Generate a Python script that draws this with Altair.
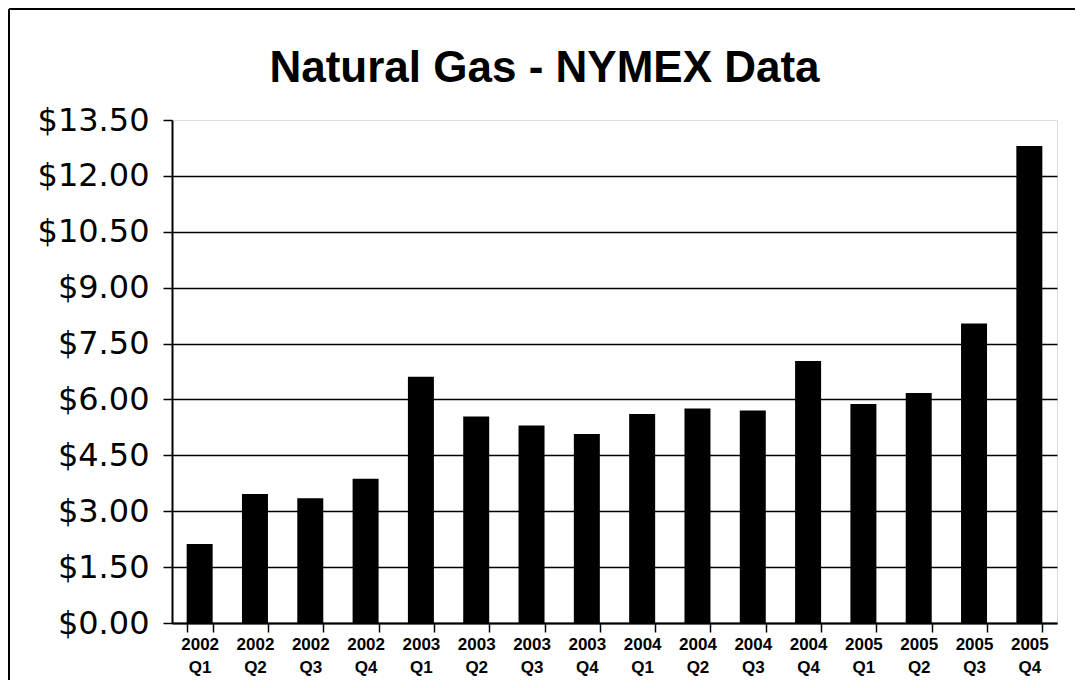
import altair as alt
import pandas as pd

quarters = ["2002 Q1", "2002 Q2", "2002 Q3", "2002 Q4",
            "2003 Q1", "2003 Q2", "2003 Q3", "2003 Q4",
            "2004 Q1", "2004 Q2", "2004 Q3", "2004 Q4",
            "2005 Q1", "2005 Q2", "2005 Q3", "2005 Q4"]
prices = [2.12, 3.46, 3.35, 3.87,
          6.61, 5.54, 5.30, 5.07,
          5.61, 5.76, 5.70, 7.03,
          5.88, 6.17, 8.04, 12.80]
y_ticks = [0, 1.5, 3.0, 4.5, 6.0, 7.5, 9.0, 10.5, 12.0, 13.5]

FONT = "Liberation Sans"

df = pd.DataFrame({"quarter": quarters, "price": prices})

bars = alt.Chart(df).mark_bar(color="black").encode(
    x=alt.X(
        "quarter:N", sort=quarters,
        scale=alt.Scale(paddingInner=0.53, paddingOuter=0.265),
        axis=alt.Axis(
            title=None, labelAngle=0, labelExpr="split(datum.label, ' ')",
            labelFont=FONT, labelFontSize=17, labelFontWeight="bold",
            labelColor="black", labelLineHeight=23, labelPadding=4,
            tickBand="extent", tickSize=9, tickColor="black", tickWidth=1.5,
            domainColor="black", domainWidth=2, grid=False,
        ),
    ),
    y=alt.Y(
        "price:Q",
        scale=alt.Scale(domain=[0, 13.5], nice=False, zero=True),
        axis=alt.Axis(
            title=None, values=y_ticks, format="$.2f",
            labelFont="DejaVu Sans", labelFontSize=32, labelColor="black",
            labelPadding=14, tickSize=9, tickColor="black", tickWidth=1.5,
            domainColor="black", domainWidth=2,
            grid=True, gridColor="black", gridWidth=1.5,
            gridOpacity={"condition": {"test": "datum.value >= 13.5", "value": 0}, "value": 1},
        ),
    ),
)

frame_df = pd.DataFrame({"a": [0]})
left_border = alt.Chart(frame_df).mark_rule(color="black", strokeWidth=2).encode(
    x=alt.value(-163), y=alt.value(-111), y2=alt.value(560)
)
top_border = alt.Chart(frame_df).mark_rule(color="black", strokeWidth=2).encode(
    x=alt.value(-163), x2=alt.value(903), y=alt.value(-111)
)

chart = alt.layer(bars, left_border, top_border).properties(
    width=885,
    height=503,
    autosize=alt.AutoSizeParams(type="none"),
    padding={"left": 164, "top": 112, "right": 18, "bottom": 57},
    title=alt.Title(
        "Natural Gas - NYMEX Data", font=FONT, fontSize=44, fontWeight="bold",
        color="black", anchor="middle", frame="group", dx=-70, offset=-118,
        baseline="alphabetic",
    ),
).configure_view(stroke="transparent").configure(background="white")

chart.save("out.html", embed_options={"renderer": "svg", "actions": False})
